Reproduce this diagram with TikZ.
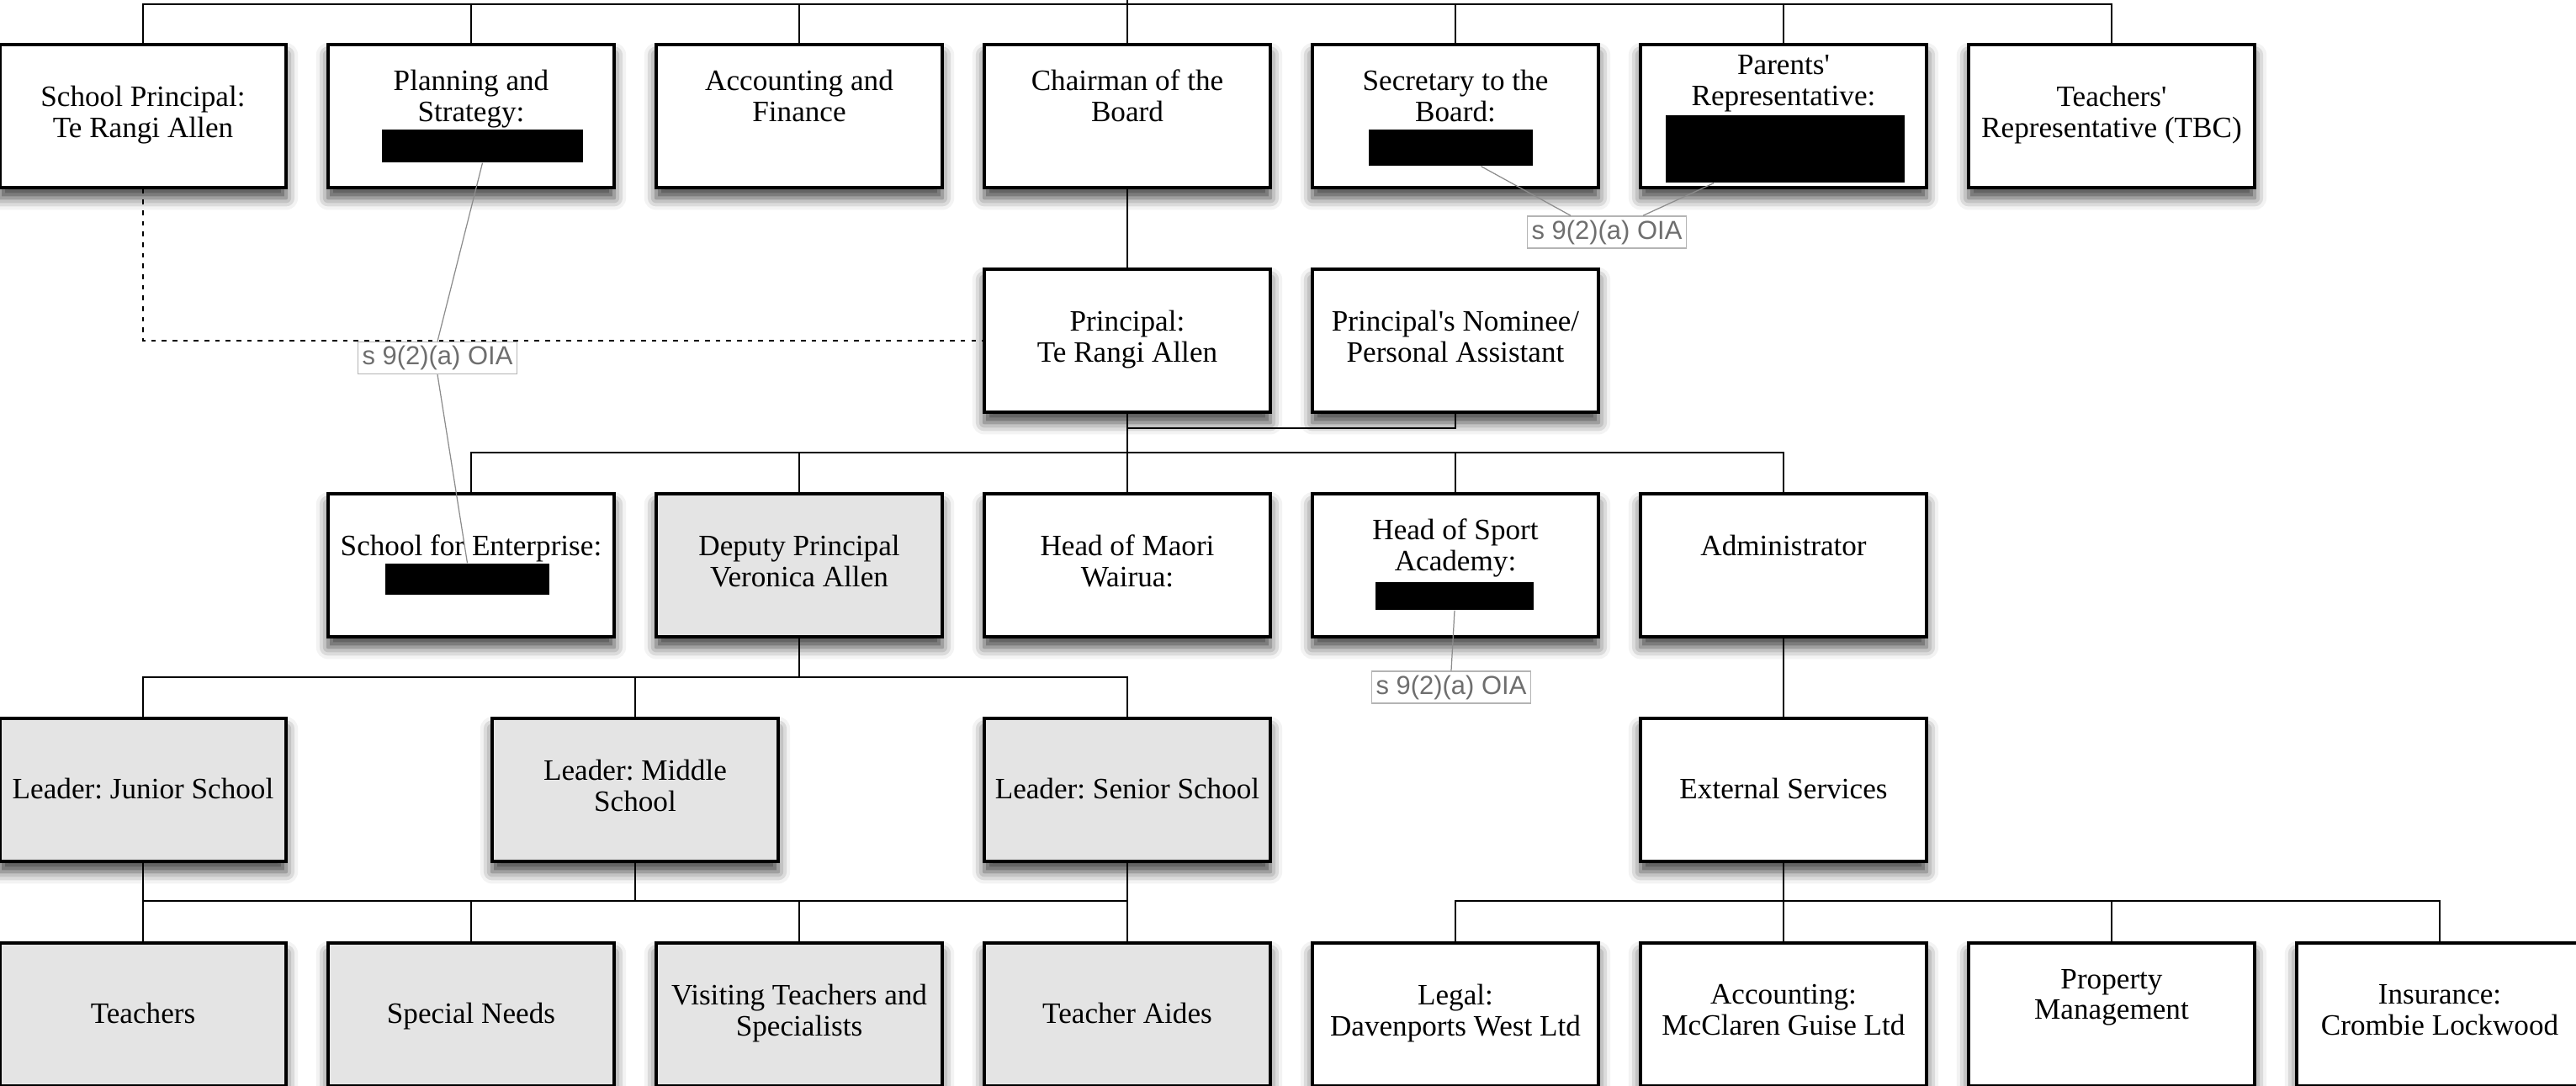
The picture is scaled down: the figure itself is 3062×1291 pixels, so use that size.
\documentclass[tikz,border=0pt]{standalone}
\usepackage{fontspec}
\setmainfont{Liberation Serif}
\newfontfamily\labfont{Liberation Sans}
\usetikzlibrary{shadows.blur,calc}
\definecolor{boxgray}{HTML}{E4E4E4}
\definecolor{labgray}{HTML}{6E6E6E}
\definecolor{labframe}{HTML}{B4B4B4}
\definecolor{leadgray}{HTML}{8C8C8C}
\begin{document}
\begin{tikzpicture}[x=0.01cm, y=-0.01cm,
  orgbox/.style={draw=black, line width=1pt, fill=white, minimum width=3.4cm, minimum height=1.7cm,
    inner sep=0pt, align=center, font=\fontsize{10}{10.5}\selectfont\frenchspacing,
    execute at begin node=\rule[-3.15pt]{0pt}{12.2pt}, execute at end node=\strut,
    blur shadow={shadow xshift=0pt, shadow yshift=-3.5pt, shadow blur radius=4pt, shadow opacity=75}},
  graybox/.style={orgbox, fill=boxgray},
  redact/.style={fill=black, draw=none, inner sep=0pt},
  link/.style={draw=black, line width=0.7pt},
  dotline/.style={draw=black, line width=0.8pt, dash pattern=on 1.6pt off 2pt},
  oia/.style={draw=labframe, line width=0.4pt, text=labgray, font=\labfont\fontsize{8.8}{10}\selectfont,
    minimum width=1.89cm, minimum height=0.38cm, inner sep=1pt},
  leader/.style={draw=leadgray, line width=0.35pt}
]
\useasboundingbox (0,0) rectangle (3062,1291);

% row 1
\node[orgbox] (sp) at (170,138) {School Principal:\\Te Rangi Allen};
\node[orgbox] (plan) at (560,138) {Planning and\\Strategy:\\\strut};
\node[orgbox] (acc) at (950,138) {Accounting and\\Finance\\\strut};
\node[orgbox] (chair) at (1340,138) {Chairman of the\\Board\\\strut};
\node[orgbox] (sec) at (1730,138) {Secretary to the\\Board:\\\strut};
\node[orgbox] (par) at (2120,138) {Parents\textquotesingle\\Representative:\\\strut\\\strut};
\node[orgbox] (tea) at (2510,138) {Teachers\textquotesingle\\Representative (TBC)};

% row 2
\node[orgbox] (prin) at (1340,405) {Principal:\\Te Rangi Allen};
\node[orgbox] (nom) at (1730,405) {Principal\textquotesingle s Nominee/\\Personal Assistant};

% row 3
\node[orgbox] (ent) at (560,672) {School for Enterprise:\\\strut};
\node[graybox] (dep) at (950,672) {Deputy Principal\\Veronica Allen};
\node[orgbox] (maori) at (1340,672) {Head of Maori\\Wairua:};
\node[orgbox] (sport) at (1730,672) {Head of Sport\\Academy:\\\strut};
\node[orgbox] (adm) at (2120,672) {Administrator\\\strut};

% row 4
\node[graybox] (jun) at (170,939) {Leader: Junior School};
\node[graybox] (mid) at (755,939) {Leader: Middle\\School};
\node[graybox] (sen) at (1340,939) {Leader: Senior School};
\node[orgbox] (ext) at (2120,939) {External Services};

% row 5
\node[graybox] (teach) at (170,1206) {Teachers};
\node[graybox] (spec) at (560,1206) {Special Needs};
\node[graybox] (visit) at (950,1206) {Visiting Teachers and\\Specialists};
\node[graybox] (aide) at (1340,1206) {Teacher Aides};
\node[orgbox] (legal) at (1730,1206) {Legal:\\Davenports West Ltd};
\node[orgbox] (acct) at (2120,1206) {Accounting:\\McClaren Guise Ltd};
\node[orgbox] (prop) at (2510,1206) {Property\\Management\\\strut};
\node[orgbox] (ins) at (2900,1206) {Insurance:\\Crombie Lockwood};

% redactions
\node[redact, minimum width=2.39cm, minimum height=0.39cm] (rPlan) at (573.5,173.5) {};
\node[redact, minimum width=1.95cm, minimum height=0.43cm] (rSec) at (1724.5,175.5) {};
\node[redact, minimum width=2.84cm, minimum height=0.80cm] (rPar) at (2122,177) {};
\node[redact, minimum width=1.95cm, minimum height=0.37cm] (rEnt) at (555.5,688.5) {};
\node[redact, minimum width=1.88cm, minimum height=0.33cm] (rSport) at (1729,708.5) {};

% connectors
\coordinate (top) at (0,5);
\coordinate (topend) at (1340,0);
\draw[link] (sp.north) -- (sp.north |- top) -- (tea.north |- top) -- (tea.north);
\foreach \n in {plan,acc,sec,par} \draw[link] (\n.north) -- (\n.north |- top);
\draw[link] (chair.north) -- (topend);
\draw[link] (chair.south) -- (prin.north);
\coordinate (nomj) at (0,509);
\draw[link] (nom.south) -- (nom.south |- nomj) -- (prin.south |- nomj);
\coordinate (bar3) at (0,538);
\draw[link] (prin.south) -- (prin.south |- bar3);
\draw[link] (ent.north) -- (ent.north |- bar3) -- (adm.north |- bar3) -- (adm.north);
\foreach \n in {dep,maori,sport} \draw[link] (\n.north) -- (\n.north |- bar3);
\coordinate (bar4) at (0,805);
\draw[link] (dep.south) -- (dep.south |- bar4);
\draw[link] (jun.north) -- (jun.north |- bar4) -- (sen.north |- bar4) -- (sen.north);
\draw[link] (mid.north) -- (mid.north |- bar4);
\coordinate (bar5) at (0,1071);
\draw[link] (jun.south) -- (jun.south |- bar5) -- (sen.south |- bar5) -- (sen.south);
\draw[link] (mid.south) -- (mid.south |- bar5);
\foreach \n in {teach,spec,visit,aide} \draw[link] (\n.north) -- (\n.north |- bar5);
\draw[link] (adm.south) -- (ext.north);
\draw[link] (ext.south) -- (ext.south |- bar5);
\draw[link] (legal.north) -- (legal.north |- bar5) -- (ins.north |- bar5) -- (ins.north);
\foreach \n in {acct,prop} \draw[link] (\n.north) -- (\n.north |- bar5);

% dotted relation
\draw[dotline] (sp.south) |- (prin.west);

% OIA labels
\node[oia] (lab1) at (520,425.5) {s 9(2)(a) OIA};
\node[oia] (lab2) at (1910,276) {s 9(2)(a) OIA};
\node[oia] (lab3) at (1725,817) {s 9(2)(a) OIA};
\draw[leader] (rPlan.south) -- (lab1.north);
\draw[leader] (lab1.south) -- (rEnt.north);
\draw[leader] ($(rSec.south)+(36,0)$) -- ($(lab2.north)+(-43,0)$);
\draw[leader] ($(rPar.south)+(-85,0)$) -- ($(lab2.north)+(43,0)$);
\draw[leader] (rSport.south) -- (lab3.north);
\end{tikzpicture}
\end{document}
